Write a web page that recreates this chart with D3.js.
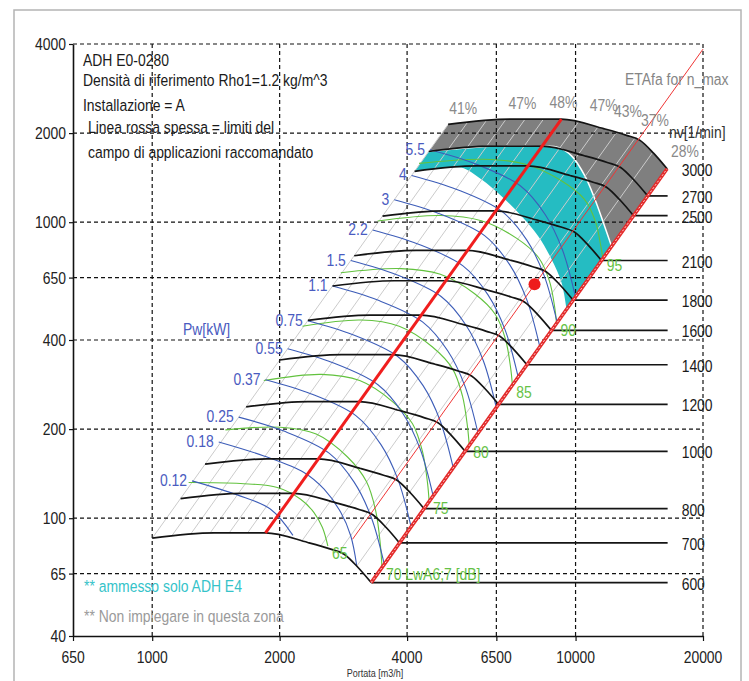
<!DOCTYPE html>
<html>
<head>
<meta charset="utf-8">
<script src="https://cdn.jsdelivr.net/npm/d3@7"></script>
<style>
body { margin: 0; background: #fff; }
svg text { font-family: "Liberation Sans", Arial, sans-serif; font-size: 17px; }
</style>
</head>
<body>
<div id="chart"></div>
<script>
// Fan ADH E0-0280 - pressure [Pa] vs flow [m3/h], log/log

// axis ticks
const xTicks = [650, 1000, 2000, 4000, 6500, 10000, 20000];
const yTicks = [40, 65, 100, 200, 400, 650, 1000, 2000, 4000];

// speed curves [1/min]
const speeds = [600, 700, 800, 1000, 1200, 1400, 1600, 1800, 2100, 2500, 2700, 3000];
const speedQ = [
  [1000, 1400, 1850, 2330, 2640, 2840, 3060, 3290],
  [1167, 1633, 2158, 2718, 3080, 3313, 3570, 3838],
  [1333, 1867, 2467, 3107, 3520, 3787, 4080, 4387],
  [1667, 2333, 3083, 3883, 4400, 4733, 5100, 5483],
  [2000, 2800, 3700, 4660, 5280, 5680, 6120, 6580],
  [2333, 3267, 4317, 5437, 6160, 6627, 7140, 7677],
  [2667, 3733, 4933, 6213, 7040, 7573, 8160, 8773],
  [3000, 4200, 5550, 6990, 7920, 8520, 9180, 9870],
  [3500, 4900, 6475, 8155, 9240, 9940, 10710, 11515],
  [4167, 5833, 7708, 9708, 11000, 11833, 12750, 13708],
  [4500, 6300, 8325, 10485, 11880, 12780, 13770, 14805],
  [5000, 7000, 9250, 11650, 13200, 14200, 15300, 16450]
];
const speedP = [
  [85.6, 89.2, 89.2, 82.8, 78.6, 75.6, 68.3, 60.6],
  [116.5, 121.4, 121.4, 112.7, 107.0, 102.9, 93.0, 82.5],
  [152.2, 158.6, 158.6, 147.2, 139.7, 134.4, 121.4, 107.7],
  [237.8, 247.8, 247.8, 230.0, 218.3, 210.0, 189.7, 168.3],
  [342.4, 356.8, 356.8, 331.2, 314.4, 302.4, 273.2, 242.4],
  [466.0, 485.6, 485.6, 450.8, 427.9, 411.6, 371.9, 329.9],
  [608.7, 634.3, 634.3, 588.8, 558.9, 537.6, 485.7, 430.9],
  [770.4, 802.8, 802.8, 745.2, 707.4, 680.4, 614.7, 545.4],
  [1048.6, 1092.7, 1092.7, 1014.3, 962.9, 926.1, 836.7, 742.4],
  [1486, 1549, 1549, 1438, 1365, 1313, 1186, 1052],
  [1733, 1806, 1806, 1677, 1592, 1531, 1383, 1227],
  [2140, 2230, 2230, 2070, 1965, 1890, 1708, 1515]
];
const speedLineEnd = 16500;

// power lines Pw [kW]
const powerLabels = ["0.12", "0.18", "0.25", "0.37", "0.55", "0.75", "1.1", "1.5", "2.2", "3", "4", "5.5"];
const powerQ = [
  [1242, 1588, 1904, 2150],
  [1436, 1836, 2283, 2547, 2790, 2945, 3040],
  [1601, 2047, 2617, 2999, 3291, 3533],
  [1852, 2368, 3027, 3470, 3807, 4087],
  [2089, 2671, 3414, 3913, 4293, 4609],
  [2330, 2979, 3808, 4364, 4788, 5141],
  [2666, 3408, 4357, 4993, 5479, 5882],
  [2945, 3765, 4813, 5516, 6052, 6498],
  [3317, 4240, 5421, 6212, 6817, 7318],
  [3731, 4770, 6097, 6988, 7668, 8232],
  [4100, 5241, 6700, 7679, 8426, 9046],
  [4530, 5791, 7403, 8484, 9310, 9995]
];
const powerP = [
  [133.7, 119.9, 107.2, 87.5],
  [181.0, 162.3, 142.7, 125.3, 104.5, 87.1, 69.5],
  [219.5, 196.9, 165.9, 132.4, 100.8, 70.0],
  [293.8, 263.5, 222.1, 177.2, 135.0, 93.6],
  [373.5, 335.0, 282.3, 225.3, 171.6, 119.0],
  [464.7, 416.8, 351.2, 280.4, 213.5, 148.1],
  [608.4, 545.7, 459.8, 367.1, 279.5, 193.9],
  [742.4, 665.9, 561.1, 447.9, 341.1, 236.6],
  [941.8, 844.7, 711.8, 568.2, 432.7, 300.2],
  [1191.6, 1068.7, 900.6, 718.9, 547.4, 379.8],
  [1439, 1290.6, 1087.6, 868.1, 661.1, 458.6],
  [1756.6, 1575.5, 1327.6, 1059.7, 807.0, 559.8]
];

// sound power lines LwA [dB]
const soundLabels = ["65", "70 LwA6;7 [dB]", "75", "80", "85", "90", "95"];
const soundQ = [
  [1219, 1616, 1975, 2242, 2411, 2524, 2600],
  [1489, 2006, 2440, 2893, 3204, 3373, 3459, 3489],
  [1835, 2513, 3091, 3700, 4120, 4349, 4469, 4509],
  [2264, 3109, 3832, 4593, 5123, 5407, 5556, 5608],
  [2789, 3868, 4793, 5776, 6459, 6833, 7026, 7091],
  [3408, 4790, 5991, 7279, 8181, 8673, 8928, 9016],
  [4269, 6057, 7617, 9299, 10486, 11135, 11474, 11600]
];
const soundP = [
  [132.0, 131.0, 127.0, 115.9, 104.5, 93.0, 80.5],
  [198.8, 203.0, 192.5, 161.0, 133.2, 105.7, 81.3, 68.3],
  [292, 306.1, 291.7, 247.3, 208.4, 168.1, 131.9, 114.1],
  [445, 467.3, 445.3, 378.8, 319.5, 258.5, 203.6, 176.4],
  [675, 697.0, 666.8, 573.0, 488.5, 401.5, 321.5, 282.2],
  [1010, 1054, 1012, 880.2, 758.7, 633.4, 515.8, 456.2],
  [1580, 1632, 1570, 1376, 1196, 1008, 829.7, 755]
];

// efficiency lines (from 600 curve to 3000 curve)
const etaQ0 = [1000, 1110, 1230, 1370, 1520, 1680, 2040, 2260, 2500, 2760, 3040];
const etaP0 = [85.6, 86.8, 88.0, 89.1, 89.2, 89.2, 88.0, 84.0, 80.5, 76.8, 68.8];
const etaQ1 = [5000, 5550, 6150, 6850, 7600, 8400, 10200, 11300, 12500, 13800, 15200];
const etaP1 = [2140, 2170, 2200, 2228, 2230, 2230, 2200, 2100, 2013, 1920, 1720];
const etaLabels = ["41%", "47%", "48%", "47%", "43%", "37%", "28%"];
const etaLabelQ = [5427, 7487, 9366, 11650, 13300, 15400, 18120];
const etaLabelP = [2317, 2409, 2427, 2371, 2263, 2110, 1661];

// red lines and duty point
const limitQ = [1852, 9260];
const limitP = [89.2, 2230];
const systemQ = [2973, 20000];
const systemP = [84.9, 3843];
const boundaryQ = [3290, 16450];
const boundaryP = [60.6, 1515];
const dutyQ = 8000;
const dutyP = 617;

// zones
const whiteQ = [4500, 6300, 8325, 9100, 9783, 10520, 11110, 11630, 12150];
const whiteP = [1733, 1806, 1806, 1790, 1675, 1434, 1196, 998, 832];
const cyanLowQ = [9522, 9265, 8775, 8155, 7447, 6676, 5987, 5370, 4800, 4167];
const cyanLowP = [509, 626, 750, 899, 1050, 1227, 1397, 1530, 1520, 1486];

const width = 749, height = 681;
const zip = (qs, ps) => qs.map((q, i) => [q, ps[i]]);

const svg = d3.select("#chart").append("svg")
  .attr("width", width)
  .attr("height", height);

const x = d3.scaleLog().domain([650, 20000]).range([73, 703]);
const y = d3.scaleLog().domain([40, 4000]).range([636, 44]);

const lineMono = d3.line().x(d => x(d[0])).y(d => y(d[1])).curve(d3.curveMonotoneX);
const lineCR = d3.line().x(d => x(d[0])).y(d => y(d[1])).curve(d3.curveCatmullRom.alpha(0.5));

// condensed text like the original
function label(parent, px, py, txt, anchor, color, size) {
  return parent.append("text")
    .attr("transform", "translate(" + px + "," + py + ") scale(0.82,1)")
    .attr("text-anchor", anchor || "start")
    .attr("fill", color || "#1a1a1a")
    .style("font-size", (size || 17) + "px")
    .text(txt);
}

// outer frame
svg.append("rect")
  .attr("x", 14).attr("y", 10)
  .attr("width", 727).attr("height", 690)
  .attr("fill", "none").attr("stroke", "#b4b4b4").attr("stroke-width", 1.5);

// zones
const top3000 = zip(speedQ[11], speedP[11]);
const white = zip(whiteQ, whiteP);
const greyPath = lineMono(top3000) + lineCR(white.slice().reverse()).replace(/^M/, "L") + "Z";
const cyanPath = lineCR(white) + lineCR(zip(cyanLowQ, cyanLowP)).replace(/^M/, "L") + "Z";

svg.append("path").attr("d", greyPath).attr("fill", "#7f7f7f");
svg.append("path").attr("d", cyanPath).attr("fill", "#25bcc2");
svg.append("path").attr("d", lineCR(white)).attr("fill", "none")
  .attr("stroke", "#fff").attr("stroke-width", 1.5);

// efficiency lines
svg.append("g").selectAll("path")
  .data(etaQ0.map((q, i) => [[q, etaP0[i]], [etaQ1[i], etaP1[i]]]))
  .join("path")
  .attr("d", d => lineMono(d))
  .attr("fill", "none")
  .attr("stroke", "#cbcbcb")
  .attr("stroke-width", 1);

// grid
const grid = svg.append("g")
  .attr("stroke", "#111")
  .attr("stroke-width", 1.2)
  .attr("stroke-dasharray", "4,3");
grid.selectAll(".gx")
  .data(xTicks.slice(1))
  .join("line")
  .attr("x1", d => x(d)).attr("x2", d => x(d))
  .attr("y1", y(4000)).attr("y2", y(40));
grid.selectAll(".gy")
  .data(yTicks.slice(1))
  .join("line")
  .attr("x1", x(650)).attr("x2", x(20000))
  .attr("y1", d => y(d)).attr("y2", d => y(d));

// sound lines
svg.append("g").selectAll("path")
  .data(soundQ.map((qs, i) => zip(qs, soundP[i])))
  .join("path")
  .attr("d", d => lineCR(d))
  .attr("fill", "none")
  .attr("stroke", "#62c23e")
  .attr("stroke-width", 1.1);

// power lines
svg.append("g").selectAll("path")
  .data(powerQ.map((qs, i) => zip(qs, powerP[i])))
  .join("path")
  .attr("d", d => lineCR(d))
  .attr("fill", "none")
  .attr("stroke", "#3d5db8")
  .attr("stroke-width", 1.1);

// speed curves and their horizontal run-outs
const speedG = svg.append("g").attr("fill", "none").attr("stroke", "#141414").attr("stroke-width", 1.7);
speedG.selectAll(".sc")
  .data(speedQ.map((qs, i) => zip(qs, speedP[i])))
  .join("path")
  .attr("d", d => lineMono(d));
speedG.selectAll(".sh")
  .data(speedQ.map((qs, i) => [[qs[qs.length - 1], speedP[i][qs.length - 1]], [speedLineEnd, speedP[i][qs.length - 1]]]))
  .join("path")
  .attr("d", d => lineMono(d));

// red lines
svg.append("path")
  .attr("d", lineMono(zip(systemQ, systemP)))
  .attr("stroke", "#ef3535").attr("stroke-width", 1).attr("fill", "none");
svg.append("path")
  .attr("d", lineMono(zip(boundaryQ, boundaryP)))
  .attr("stroke", "#e32a2a").attr("stroke-width", 3.6).attr("fill", "none");
svg.append("path")
  .attr("d", lineMono(zip(boundaryQ, boundaryP)))
  .attr("stroke", "#ffd0d0").attr("stroke-width", 1).attr("stroke-dasharray", "2,2").attr("fill", "none");
svg.append("path")
  .attr("d", lineMono(zip(limitQ, limitP)))
  .attr("stroke", "#f01e1e").attr("stroke-width", 3).attr("fill", "none");
svg.append("circle")
  .attr("cx", x(dutyQ)).attr("cy", y(dutyP)).attr("r", 6)
  .attr("fill", "#ee1c1c");

// axes
const axL = svg.append("g")
  .attr("transform", "translate(" + x(650) + ",0)")
  .call(d3.axisLeft(y).tickValues(yTicks).tickSize(4).tickSizeOuter(0).tickFormat(""));
const axB = svg.append("g")
  .attr("transform", "translate(0," + y(40) + ")")
  .call(d3.axisBottom(x).tickValues(xTicks).tickSize(5).tickSizeOuter(0).tickFormat(""));
[axL, axB].forEach(a => {
  a.select(".domain").attr("stroke", "#111").attr("stroke-width", 1.6);
  a.selectAll(".tick line").attr("stroke", "#111").attr("stroke-width", 1.2);
});

// tick labels
yTicks.forEach(v => label(svg, 66, y(v) + 6, String(v), "end", "#222"));
xTicks.forEach(v => label(svg, x(v), 663, String(v), "middle", "#222"));
label(svg, 375, 677, "Portata [m3/h]", "middle", "#333", 11);

// speed labels
speeds.forEach((n, i) => {
  const pEnd = speedP[i][speedP[i].length - 1];
  label(svg, x(speedLineEnd) + 14, y(pEnd) + 7, String(n), "start", "#1a1a1a");
});
label(svg, 669, 138, "nv[1/min]", "start", "#333");

// power labels
powerLabels.forEach((t, i) => {
  label(svg, x(powerQ[i][0]) - 5, y(powerP[i][0]) + 5, t, "end", "#4a5bc0");
});
label(svg, 183, 335, "Pw[kW]", "start", "#4a5bc0");

// sound labels
soundLabels.forEach((t, i) => {
  const n = soundQ[i].length - 1;
  label(svg, x(soundQ[i][n]) + 4, y(soundP[i][n]) + 13, t, "start", "#66c246");
});

// efficiency labels
etaLabels.forEach((t, i) => {
  label(svg, x(etaLabelQ[i]), y(etaLabelP[i]), t, "middle", "#8a8a8a");
});
label(svg, 625, 85, "ETAfa for n_max", "start", "#858585");

// header
label(svg, 83, 66, "ADH E0-0280");
label(svg, 83, 86, "Densità di riferimento Rho1=1.2 kg/m^3");
label(svg, 83, 111, "Installazione = A");
label(svg, 88, 133, "Linea rossa spessa = limiti del");
label(svg, 88, 158, "campo di applicazioni raccomandato");

// zone legend
label(svg, 84, 592, "** ammesso solo ADH E4", "start", "#35c3c9");
label(svg, 84, 622, "** Non impiegare in questa zona", "start", "#9a9a9a");
</script>
</body>
</html>
